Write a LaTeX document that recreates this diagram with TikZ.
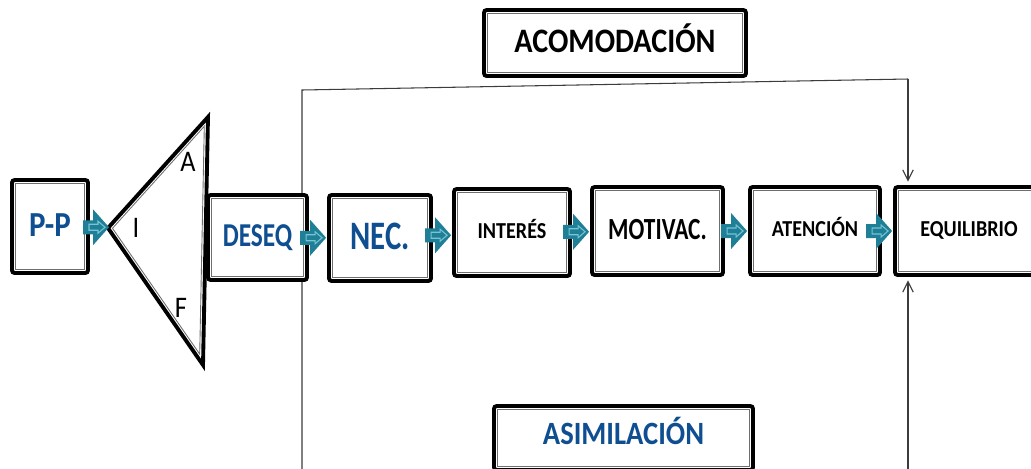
\documentclass[tikz,border=0pt]{standalone}
\usepackage{fontspec}
\newfontfamily\boxfont[FakeStretch=0.88]{Carlito}
\newfontfamily\narrowfont[FakeStretch=0.76]{Carlito}
\usetikzlibrary{calc,arrows.meta}

\definecolor{tealfill}{RGB}{31,127,150}
\definecolor{tealline}{RGB}{120,195,212}
\definecolor{txtblue}{RGB}{14,78,145}
\definecolor{innerframe}{RGB}{110,110,110}
\definecolor{thinline}{RGB}{60,60,60}

% teal block arrow from the east side of #1 to the west side of #2
\newcommand{\tealarrow}[2]{%
  \fill[tealfill] let \p1=(#1.east), \p2=(#2.west), \n1={(\y1+\y2)/2} in
    (\x2,\n1) ++(-1,0) -- ++(-16,-18) -- ++(0,11) -- ++(-10,0) -- ++(0,14) -- ++(10,0) -- ++(0,11) -- cycle;
  \draw[tealline, line width=0.6pt] let \p1=(#1.east), \p2=(#2.west), \n1={(\y1+\y2)/2} in
    (\x2,\n1) ++(-5,0) -- ++(-7,-6) -- ++(0,3) -- ++(-9,0) -- ++(0,6) -- ++(9,0) -- ++(0,3) -- cycle;
}

\begin{document}
\begin{tikzpicture}[x=0.02cm, y=-0.02cm,
  box/.style={draw, fill=white, line width=2.2pt, rounded corners=1.5pt, inner sep=0pt, text depth=2pt,
    path picture={\draw[line width=0.5pt, innerframe, sharp corners]
      ([shift={(2pt,2pt)}]path picture bounding box.south west) rectangle
      ([shift={(-2pt,-2pt)}]path picture bounding box.north east);}},
  lbl/.style 2 args={font=\boxfont\bfseries\fontsize{#1}{#1}\selectfont, text height=#2},
  narrowlbl/.style 2 args={font=\narrowfont\bfseries\fontsize{#1}{#1}\selectfont, text height=#2},
  letter/.style={font=\boxfont\fontsize{17}{20}\selectfont},
  bracket/.style={thinline, line width=0.6pt},
  tip/.style={-{Straight Barb[length=6pt,width=6pt]}, shorten >=2pt}]

\useasboundingbox (0,0) rectangle (1031,468);

\coordinate (acomL) at (302,90);
\coordinate (acomR) at (908,79);
\coordinate (asimL) at (302,480);
\coordinate (asimR) at (908,480);
\coordinate (tri) at (110,228);

\draw[bracket] (asimL) -- (acomL) -- (acomR);

% triangle
\draw[line width=2.2pt] (108,228) -- (208,117) -- (203,365) -- cycle;
\draw[line width=0.5pt, innerframe] (112.5,228.3) -- (204.3,126.3) -- (199.7,354.1) -- cycle;
\node[letter] (lblA) at (188,162) {A};
\node[letter] (lblI) at (136,228) {I};
\node[letter] (lblF) at (181,308) {F};

\node[box, lbl={20}{12.9pt}, text=txtblue, minimum width=1.52cm, minimum height=1.86cm] (pp) at (50,226.5) {P-P};
\node[box, narrowlbl={19}{12.2pt}, text=txtblue, minimum width=1.98cm, minimum height=1.70cm] (deseq) at (257.5,237.5) {DESEQ};
\node[box, narrowlbl={23}{14.8pt}, text=txtblue, minimum width=2.04cm, minimum height=1.72cm] (nec) at (380,238) {NEC.};
\node[box, lbl={13}{8.4pt}, minimum width=2.32cm, minimum height=1.74cm] (interes) at (512,232.5) {INTERÉS};
\node[box, narrowlbl={17.5}{11.3pt}, minimum width=2.62cm, minimum height=1.76cm] (motiv) at (657.5,231) {MOTIVAC.};
\node[box, lbl={13}{8.4pt}, minimum width=2.60cm, minimum height=1.76cm] (atenc) at (815,231) {ATENCIÓN};
\node[box, lbl={13}{8.4pt}, minimum width=2.96cm, minimum height=1.76cm] (equil) at (969,231) {EQUILIBRIO};

\node[box, lbl={19.5}{12.6pt}, minimum width=5.24cm, minimum height=1.32cm] (acom) at (615,43) {ACOMODACIÓN};
\node[box, lbl={18.5}{11.9pt}, text=txtblue, text depth=5pt, minimum width=5.18cm, minimum height=1.28cm] (asim) at (623.5,438) {ASIMILACIÓN};

\tealarrow{pp}{tri}
\tealarrow{deseq}{nec}
\tealarrow{nec}{interes}
\tealarrow{interes}{motiv}
\tealarrow{motiv}{atenc}
\tealarrow{atenc}{equil}

\draw[bracket, tip] (acomR) -- (acomR |- equil.north);
\draw[bracket, tip] (asimR) -- (asimR |- equil.south);
\end{tikzpicture}
\end{document}
